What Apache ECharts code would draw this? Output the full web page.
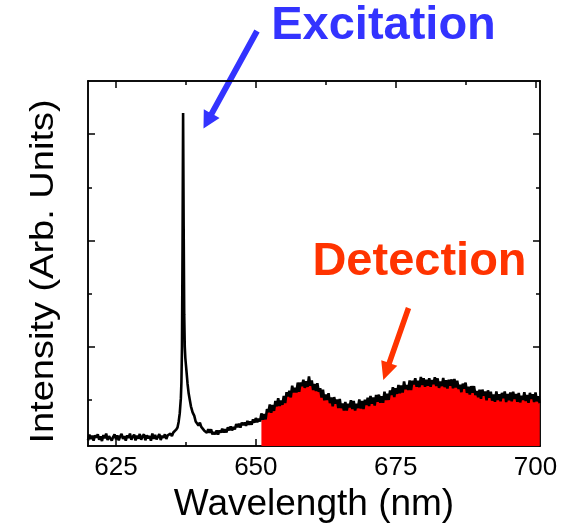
<!DOCTYPE html>
<html><head><meta charset="utf-8">
<script src="https://cdn.jsdelivr.net/npm/echarts@6/dist/echarts.min.js"></script>
<style>html,body{margin:0;padding:0;background:#fff}#c{width:574px;height:530px}</style>
</head><body><div id="c"></div>
<script>
// ---- data ----
const xTickLabels = [625, 650, 675, 700];
const xMinorTicks = [637.5, 662.5, 687.5];
const yMajorTicks = [300, 600, 900];
const yMinorTicks = [150, 450, 750];

// baseline before the laser line: 620.00 .. 635.75, step 0.25 nm
const baseStart = 620, baseStep = 0.25;
const baseValues = [
  36, 52, 40, 49, 35, 50, 44, 53, 38, 47, 34, 51, 42, 55, 37, 48,
  51, 35, 46, 53, 39, 50, 36, 47, 54, 40, 48, 35, 50, 43, 55, 38,
  46, 52, 36, 49, 41, 54, 38, 47, 53, 36, 50, 42, 48, 35, 55, 40,
  51, 39, 46, 54, 37, 49, 43, 53, 40, 50, 45, 55, 48, 58, 55, 66];

// excitation line (wavelength, intensity)
const peakPoints = [[636.0, 72], [636.2, 88], [636.4, 112], [636.6, 155], [636.7, 200],
  [636.8, 300], [636.9, 580], [637.0, 960], [637.1, 640], [637.2, 390], [637.3, 300],
  [637.4, 268], [637.5, 250], [637.6, 232], [637.8, 195], [638.0, 168], [638.2, 150],
  [638.4, 132], [638.7, 115]];

// tail + emission: 639.00 .. 700.75, step 0.25 nm
const tailStart = 639, tailStep = 0.25;
const tailValues = [
  105, 89, 93, 78, 86, 74, 79, 64, 68, 57, 67, 57, 67, 53, 59, 53,
  64, 52, 64, 58, 69, 58, 67, 58, 73, 64, 75, 64, 74, 67, 82, 73,
  83, 72, 86, 79, 86, 77, 91, 80, 89, 80, 95, 86, 99, 87, 97, 89,
  112, 94, 110, 95, 124, 115, 137, 114, 136, 119, 147, 132, 155, 133, 148, 136,
  161, 141, 172, 160, 176, 157, 190, 171, 184, 171, 199, 173, 199, 189, 207, 184,
  203, 187, 216, 190, 205, 178, 195, 175, 197, 173, 183, 157, 179, 149, 165, 150,
  169, 141, 157, 132, 158, 140, 151, 127, 153, 127, 140, 120, 144, 120, 139, 129,
  149, 124, 147, 120, 139, 127, 151, 126, 147, 124, 151, 136, 156, 133, 161, 139,
  157, 134, 164, 145, 165, 142, 160, 142, 173, 150, 167, 150, 177, 164, 186, 158,
  183, 167, 192, 169, 191, 171, 202, 181, 192, 178, 205, 178, 204, 194, 211, 187,
  204, 186, 215, 192, 211, 187, 207, 190, 211, 187, 206, 195, 214, 189, 211, 184,
  202, 189, 212, 186, 206, 182, 207, 190, 208, 183, 209, 185, 204, 181, 193, 172,
  196, 182, 199, 170, 187, 165, 189, 170, 189, 164, 175, 158, 179, 153, 179, 162,
  174, 149, 177, 156, 173, 148, 165, 145, 174, 150, 166, 146, 170, 155, 174, 144,
  167, 149, 171, 146, 173, 153, 167, 145, 170, 143, 162, 150, 172, 147, 164, 142,
  170, 153, 166, 144, 171, 146, 160, 141];

const detectFrom = 651;   // start of the detection window (nm)

// ---- build ----
const spectrum = [];
baseValues.forEach((v, i) => spectrum.push([baseStart + i * baseStep, v]));
peakPoints.forEach(p => spectrum.push(p));
tailValues.forEach((v, i) => spectrum.push([tailStart + i * tailStep, v]));
const detection = spectrum.filter(p => p[0] >= detectFrom);

const FONT = '"Liberation Sans", Arial, sans-serif';
const AX = { color: '#000', width: 1.5 };
const XMIN = 620, XMAX = 700.8, YMIN = 20, YMAX = 1050;

function xAx(pos, ticks, len, labels) {
  return {
    type: 'value', min: XMIN, max: XMAX, position: pos,
    axisLine: { show: true, lineStyle: AX },
    axisTick: { show: true, inside: true, length: len, customValues: ticks, lineStyle: AX },
    axisLabel: labels ? { show: true, customValues: labels, fontSize: 26, color: '#000', fontFamily: FONT, margin: 9 } : { show: false },
    splitLine: { show: false }
  };
}
function yAx(pos, ticks, len) {
  return {
    type: 'value', min: YMIN, max: YMAX, position: pos,
    axisLine: { show: true, lineStyle: AX },
    axisTick: { show: true, inside: true, length: len, customValues: ticks, lineStyle: AX },
    axisLabel: { show: false },
    splitLine: { show: false }
  };
}

function arrow(tail, tip, sw, hl, hw) {
  const dx = tip[0] - tail[0], dy = tip[1] - tail[1];
  const L = Math.hypot(dx, dy), ux = dx / L, uy = dy / L, nx = -uy, ny = ux;
  const bx = tip[0] - ux * hl, by = tip[1] - uy * hl;
  return [
    [tail[0] + nx * sw / 2, tail[1] + ny * sw / 2],
    [bx + nx * sw / 2, by + ny * sw / 2],
    [bx + nx * hw / 2, by + ny * hw / 2],
    tip,
    [bx - nx * hw / 2, by - ny * hw / 2],
    [bx - nx * sw / 2, by - ny * sw / 2],
    [tail[0] - nx * sw / 2, tail[1] - ny * sw / 2]
  ];
}

const chart = echarts.init(document.getElementById('c'), null, { renderer: 'canvas' });
const xMain = xAx('bottom', xTickLabels, 7, xTickLabels);
xMain.name = 'Wavelength (nm)';
xMain.nameLocation = 'middle';
xMain.nameGap = 25;
xMain.nameTextStyle = { fontSize: 37, color: '#000', fontFamily: FONT };

chart.setOption({
  animation: false,
  backgroundColor: '#fff',
  grid: { left: 88, right: 34, top: 81, bottom: 84 },
  xAxis: [xMain, xAx('bottom', xMinorTicks, 4), xAx('top', xTickLabels, 7), xAx('top', xMinorTicks, 4)],
  yAxis: [yAx('left', yMajorTicks, 7), yAx('left', yMinorTicks, 4), yAx('right', yMajorTicks, 7), yAx('right', yMinorTicks, 4)],
  series: [
    {
      name: 'Detection', type: 'line', data: detection, showSymbol: false, symbol: 'none',
      lineStyle: { width: 0 }, areaStyle: { color: '#ff0000', opacity: 1 }, z: 2
    },
    {
      name: 'Spectrum', type: 'line', data: spectrum, showSymbol: false, symbol: 'none',
      lineStyle: { color: '#000', width: 2.6 }, z: 3
    }
  ],
  graphic: [
    { type: 'polygon', shape: { points: arrow([257, 31], [203.5, 128.5], 6, 17, 18) }, style: { fill: '#3333ff' } },
    { type: 'polygon', shape: { points: arrow([408.5, 308], [383.3, 380], 5.5, 18, 17) }, style: { fill: '#ff3300' } },
    { type: 'text', x: 383.5, y: 26.5, style: { text: 'Excitation', font: 'bold 47px ' + FONT, fill: '#3333ff', align: 'center', verticalAlign: 'middle' } },
    { type: 'text', x: 419.5, y: 262, style: { text: 'Detection', font: 'bold 47px ' + FONT, fill: '#ff3300', align: 'center', verticalAlign: 'middle' } },
    { type: 'text', x: 43.5, y: 271.5, rotation: Math.PI / 2, scaleY: 0.86,
      style: { text: 'Intensity (Arb. Units)', font: '38px ' + FONT, fill: '#000', align: 'center', verticalAlign: 'middle' } }
  ]
});
</script>
</body></html>
